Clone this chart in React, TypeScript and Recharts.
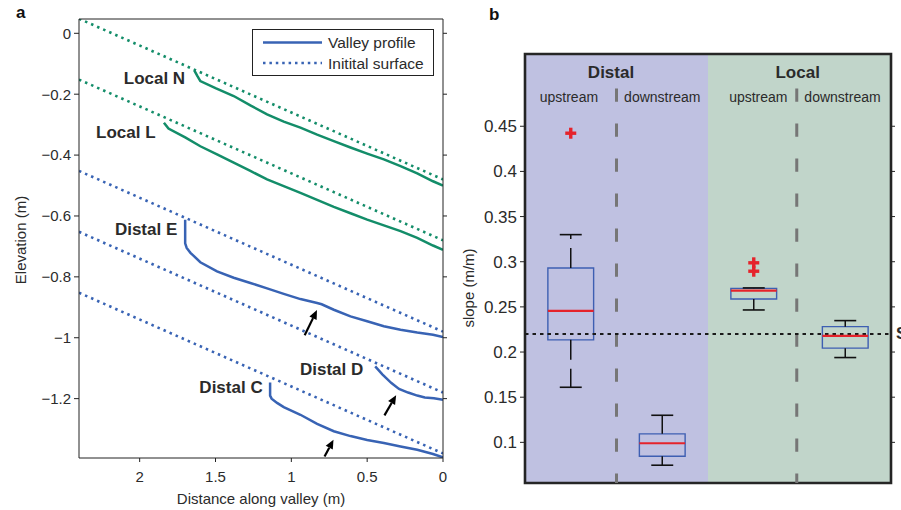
import React from "react";
import {
  LineChart,
  Line,
  ComposedChart,
  Scatter,
  XAxis,
  YAxis,
  ReferenceLine,
  ReferenceArea,
  ReferenceDot,
  Legend,
} from "recharts";

// ---------- panel a: valley profiles ----------
const distTicks = [0, 0.5, 1, 1.5, 2];
const elevTicks = [-1.2, -1, -0.8, -0.6, -0.4, -0.2, 0];

// initial surfaces are straight, given at the two ends of the distance axis
const surfaceDist = [2.4, 0];
const surfaceN = [0.048, -0.48];
const surfaceL = [-0.152, -0.68];
const surfaceE = [-0.452, -0.98];
const surfaceD = [-0.652, -1.18];
const surfaceC = [-0.852, -1.38];

const localNDist = [1.64, 1.62, 1.6, 1.5, 1.38, 1.27, 1.16, 1.05, 0.94, 0.83, 0.72, 0.61, 0.5, 0.39, 0.28, 0.17, 0.066, 0];
const localNElev = [-0.122, -0.14, -0.157, -0.18, -0.206, -0.237, -0.266, -0.29, -0.31, -0.333, -0.354, -0.375, -0.395, -0.414, -0.436, -0.46, -0.486, -0.5];

const localLDist = [1.84, 1.81, 1.7, 1.6, 1.49, 1.38, 1.27, 1.16, 1.05, 0.94, 0.83, 0.72, 0.61, 0.5, 0.39, 0.28, 0.17, 0.066, 0];
const localLElev = [-0.294, -0.313, -0.342, -0.371, -0.398, -0.425, -0.452, -0.48, -0.502, -0.524, -0.547, -0.57, -0.591, -0.612, -0.631, -0.65, -0.672, -0.697, -0.711];

const distalEDist = [1.7, 1.7, 1.69, 1.665, 1.6, 1.49, 1.38, 1.27, 1.16, 1.05, 0.94, 0.83, 0.8, 0.72, 0.61, 0.5, 0.39, 0.28, 0.17, 0.066, 0];
const distalEElev = [-0.612, -0.69, -0.705, -0.721, -0.752, -0.782, -0.803, -0.82, -0.838, -0.856, -0.873, -0.886, -0.89, -0.908, -0.93, -0.946, -0.962, -0.974, -0.983, -0.99, -0.998];

const distalDDist = [0.447, 0.4, 0.34, 0.29, 0.23, 0.17, 0.12, 0.06, 0];
const distalDElev = [-1.094, -1.12, -1.149, -1.168, -1.18, -1.19, -1.196, -1.199, -1.204];

const distalCDist = [1.14, 1.14, 1.13, 1.094, 1.05, 0.94, 0.83, 0.72, 0.61, 0.5, 0.39, 0.28, 0.17, 0.066, 0];
const distalCElev = [-1.147, -1.19, -1.2, -1.214, -1.228, -1.253, -1.283, -1.307, -1.323, -1.336, -1.346, -1.357, -1.368, -1.382, -1.393];

const profileNames = ["Local N", "Local L", "Distal E", "Distal D", "Distal C"];
const nameDist = [1.7, 1.895, 1.752, 0.526, 1.189];
const nameElev = [-0.147, -0.326, -0.644, -1.103, -1.162];

// arrows: tail -> head
const arrowTailDist = [0.912, 0.386, 0.781];
const arrowTailElev = [-0.992, -1.255, -1.39];
const arrowHeadDist = [0.831, 0.309, 0.722];
const arrowHeadElev = [-0.909, -1.189, -1.335];

// ---------- panel b: slope box plots ----------
const groups = ["Distal upstream", "Distal downstream", "Local upstream", "Local downstream"];
const groupPos = [0.5, 1.5, 2.5, 3.5];
const whiskerLo = [0.161, 0.0747, 0.2466, 0.1939];
const q1 = [0.2135, 0.0847, 0.2587, 0.2043];
const median = [0.2455, 0.099, 0.2679, 0.2179];
const q3 = [0.293, 0.1094, 0.2705, 0.2281];
const whiskerHi = [0.33, 0.13, 0.271, 0.2348];
const outlierPos = [0.5, 2.5, 2.5];
const outlierSlope = [0.4423, 0.2988, 0.2895];
const slopeTicks = [0.1, 0.15, 0.2, 0.25, 0.3, 0.35, 0.4, 0.45];
const steadySlope = 0.22;
const dividerPos = [1, 2.97];
const headers = ["Distal", "Local"];
const headerPos = [0.94, 2.98];
const subHeaders = ["upstream", "downstream", "upstream", "downstream"];
const subHeaderPos = [0.48, 1.5, 2.55, 3.47];

const green = "#138d69";
const blue = "#3863b4";
const ink = "#2b2b2b";
const distalBg = "#bfc1e1";
const localBg = "#c1d5ca";
const boxBlue = "#3e5fb2";
const red = "#e5232b";

const zip = (xs: number[], ys: number[]) => xs.map((x, i) => ({ x, y: ys[i] }));
const fmtElev = (v: number) => (v < 0 ? "\u2212" + Math.abs(v) : String(v));
const blank = () => "";

const sideLabel = (text: string, dx: number, dy: number, size: number) => (props: any) => {
  const { x, y, height } = props.viewBox;
  const cx = x + dx;
  const cy = y + height / 2 + dy;
  return (
    <text x={cx} y={cy} transform={`rotate(-90 ${cx} ${cy})`} textAnchor="middle"
      dominantBaseline="central" fontSize={size} fill={ink}>
      {text}
    </text>
  );
};

const textAt = (text: string, anchor: string, size: number, bold: boolean) => (p: any) => (
  <text x={p.cx} y={p.cy} textAnchor={anchor} dominantBaseline="central" fontSize={size}
    fontWeight={bold ? "bold" : "normal"} fill={ink}>
    {text}
  </text>
);

const Arrow = (p: any) => {
  const { x1, y1, x2, y2 } = p;
  const a = Math.atan2(y2 - y1, x2 - x1);
  const len = 9;
  const w = 4;
  const bx = x2 - len * Math.cos(a);
  const by = y2 - len * Math.sin(a);
  const nx = -Math.sin(a) * w;
  const ny = Math.cos(a) * w;
  return (
    <g>
      <line x1={x1} y1={y1} x2={bx} y2={by} stroke="#000" strokeWidth={2.2} />
      <polygon points={`${x2},${y2} ${bx + nx},${by + ny} ${bx - nx},${by - ny}`} fill="#000" />
    </g>
  );
};

const Plus = (p: any) => (
  <g fill={red}>
    <rect x={p.cx - 5.5} y={p.cy - 1.7} width={11} height={3.4} />
    <rect x={p.cx - 1.7} y={p.cy - 5.5} width={3.4} height={11} />
  </g>
);

const ProfileLegend = () => (
  <svg width={182} height={47} style={{ display: "block" }}>
    <rect x={0.5} y={0.5} width={181} height={46} fill="#fff" stroke="#222" />
    <line x1={11} x2={70} y1={13.5} y2={13.5} stroke={blue} strokeWidth={2.5} />
    <text x={76} y={19} fontSize={15.5} fill={ink}>Valley profile</text>
    <line x1={11} x2={70} y1={34} y2={34} stroke={blue} strokeWidth={2.5} strokeDasharray="2.5 3.9" />
    <text x={76} y={39.5} fontSize={15.5} fill={ink}>Initital surface</text>
  </svg>
);

function ProfilePanel() {
  const surfaces = [
    { elev: surfaceN, color: green },
    { elev: surfaceL, color: green },
    { elev: surfaceE, color: blue },
    { elev: surfaceD, color: blue },
    { elev: surfaceC, color: blue },
  ];
  const profiles = [
    { d: localNDist, e: localNElev, color: green },
    { d: localLDist, e: localLElev, color: green },
    { d: distalEDist, e: distalEElev, color: blue },
    { d: distalDDist, e: distalDElev, color: blue },
    { d: distalCDist, e: distalCElev, color: blue },
  ];
  return (
    <LineChart width={450} height={510} margin={{ top: 15, right: 5, bottom: 22, left: 29 }}>
      <XAxis type="number" dataKey="x" domain={[0, 2.4]} reversed allowDataOverflow ticks={distTicks}
        height={30} tickSize={4} tickMargin={9} stroke="#222" tick={{ fill: ink, fontSize: 15 }}
        label={{ value: "Distance along valley (m)", position: "bottom", offset: 5, fill: ink, fontSize: 15 }} />
      <XAxis xAxisId="top" orientation="top" type="number" domain={[0, 2.4]} reversed allowDataOverflow
        ticks={distTicks} tickFormatter={blank} height={4} tickSize={4} stroke="#222" />
      <YAxis type="number" dataKey="y" domain={[-1.395, 0.047]} allowDataOverflow ticks={elevTicks}
        tickFormatter={fmtElev} width={50} tickSize={5} tickMargin={3} stroke="#222"
        tick={{ fill: ink, fontSize: 15 }} label={sideLabel("Elevation (m)", -9, 1.5, 15)} />
      <YAxis yAxisId="right" orientation="right" type="number" domain={[-1.395, 0.047]} allowDataOverflow
        ticks={elevTicks} tickFormatter={blank} width={2} tickSize={4} stroke="#222" />
      {surfaces.map((s, i) => (
        <Line key={`s${i}`} data={zip(surfaceDist, s.elev)} dataKey="y" stroke={s.color} strokeWidth={2.6}
          strokeDasharray="2.5 4.1" dot={false} activeDot={false} isAnimationActive={false} />
      ))}
      {profiles.map((p, i) => (
        <Line key={`p${i}`} data={zip(p.d, p.e)} dataKey="y" stroke={p.color} strokeWidth={2.5}
          dot={false} activeDot={false} isAnimationActive={false} />
      ))}
      {profileNames.map((n, i) => (
        <ReferenceDot key={`n${i}`} x={nameDist[i]} y={nameElev[i]} r={0} ifOverflow="visible"
          shape={textAt(n, "end", 17, true)} />
      ))}
      {arrowTailDist.map((d, i) => (
        <ReferenceLine key={`a${i}`} ifOverflow="visible" shape={Arrow}
          segment={[{ x: d, y: arrowTailElev[i] }, { x: arrowHeadDist[i], y: arrowHeadElev[i] }]} />
      ))}
      <Legend content={() => <ProfileLegend />} layout="vertical" align="center" verticalAlign="middle"
        wrapperStyle={{ left: 252, top: 29, width: 182, height: 47 }} />
    </LineChart>
  );
}

function SlopePanel() {
  const lo = 0.055;
  const hi = 0.53;
  const boxHalf = 0.25;
  const capHalf = 0.12;
  const outliers = zip(outlierPos, outlierSlope);
  return (
    <ComposedChart width={451} height={510} margin={{ top: 54, right: 8, bottom: 27, left: 35 }}>
      <XAxis type="number" dataKey="x" domain={[0, 4]} allowDataOverflow hide />
      <YAxis type="number" dataKey="y" domain={[lo, hi]} allowDataOverflow ticks={slopeTicks} width={40}
        tickSize={5} tickMargin={3} stroke="#222" tick={{ fill: ink, fontSize: 17 }}
        label={sideLabel("slope (m/m)", -16.7, 19.5, 15)} />
      <YAxis yAxisId="right" orientation="right" type="number" domain={[lo, hi]} allowDataOverflow
        ticks={slopeTicks} tickFormatter={blank} width={2} tickSize={4} stroke="#222" />
      <ReferenceArea x1={0} x2={2} y1={lo} y2={hi} fill={distalBg} fillOpacity={1} stroke="none" />
      <ReferenceArea x1={2} x2={4} y1={lo} y2={hi} fill={localBg} fillOpacity={1} stroke="none" />
      {dividerPos.map((x, i) => (
        <ReferenceLine key={`d${i}`} segment={[{ x, y: lo }, { x, y: 0.494 }]} stroke="#767676"
          strokeWidth={3} strokeDasharray="13.3 21.7" strokeDashoffset={3.7} />
      ))}
      <ReferenceLine y={steadySlope} stroke="#1a1a1a" strokeWidth={2.2} strokeDasharray="3.5 4" />
      {groups.flatMap((g, i) => {
        const x = groupPos[i];
        return [
          <ReferenceLine key={`wu${i}`} segment={[{ x, y: q3[i] }, { x, y: whiskerHi[i] }]}
            stroke="#111" strokeWidth={1.5} strokeDasharray="20 9" />,
          <ReferenceLine key={`wl${i}`} segment={[{ x, y: q1[i] }, { x, y: whiskerLo[i] }]}
            stroke="#111" strokeWidth={1.5} strokeDasharray="20 9" />,
          <ReferenceLine key={`cu${i}`} segment={[{ x: x - capHalf, y: whiskerHi[i] }, { x: x + capHalf, y: whiskerHi[i] }]}
            stroke="#111" strokeWidth={1.6} />,
          <ReferenceLine key={`cl${i}`} segment={[{ x: x - capHalf, y: whiskerLo[i] }, { x: x + capHalf, y: whiskerLo[i] }]}
            stroke="#111" strokeWidth={1.6} />,
          <ReferenceArea key={`b${i}`} x1={x - boxHalf} x2={x + boxHalf} y1={q1[i]} y2={q3[i]}
            fill="none" stroke={boxBlue} strokeWidth={1.4} />,
          <ReferenceLine key={`m${i}`} segment={[{ x: x - boxHalf, y: median[i] }, { x: x + boxHalf, y: median[i] }]}
            stroke={red} strokeWidth={2.2} />,
        ];
      })}
      <Scatter data={outliers} dataKey="y" shape={Plus} isAnimationActive={false} />
      {headers.map((h, i) => (
        <ReferenceDot key={`h${i}`} x={headerPos[i]} y={0.5096} r={0} shape={textAt(h, "middle", 17, true)} />
      ))}
      {subHeaders.map((h, i) => (
        <ReferenceDot key={`sh${i}`} x={subHeaderPos[i]} y={0.482} r={0} shape={textAt(h, "middle", 14, false)} />
      ))}
      <ReferenceDot x={4.055} y={steadySlope} r={0} ifOverflow="visible" shape={textAt("S", "start", 17, true)} />
      <ReferenceArea x1={0} x2={4} y1={lo} y2={hi} fill="none" stroke="#262626" strokeWidth={2.6} />
    </ComposedChart>
  );
}

export default function App() {
  return (
    <div style={{ position: "absolute", left: 0, top: 0, width: 901, height: 510, background: "#fff",
      overflow: "hidden", fontFamily: "'Liberation Sans', Arial, sans-serif" }}>
      <div style={{ position: "absolute", left: 0, top: 0 }}>
        <ProfilePanel />
      </div>
      <div style={{ position: "absolute", left: 450, top: 0 }}>
        <SlopePanel />
      </div>
      <div style={{ position: "absolute", left: 16, top: 3.6, fontSize: 17, lineHeight: "17px", fontWeight: "bold", color: "#111" }}>a</div>
      <div style={{ position: "absolute", left: 489, top: 5.6, fontSize: 17, lineHeight: "17px", fontWeight: "bold", color: "#111" }}>b</div>
    </div>
  );
}
